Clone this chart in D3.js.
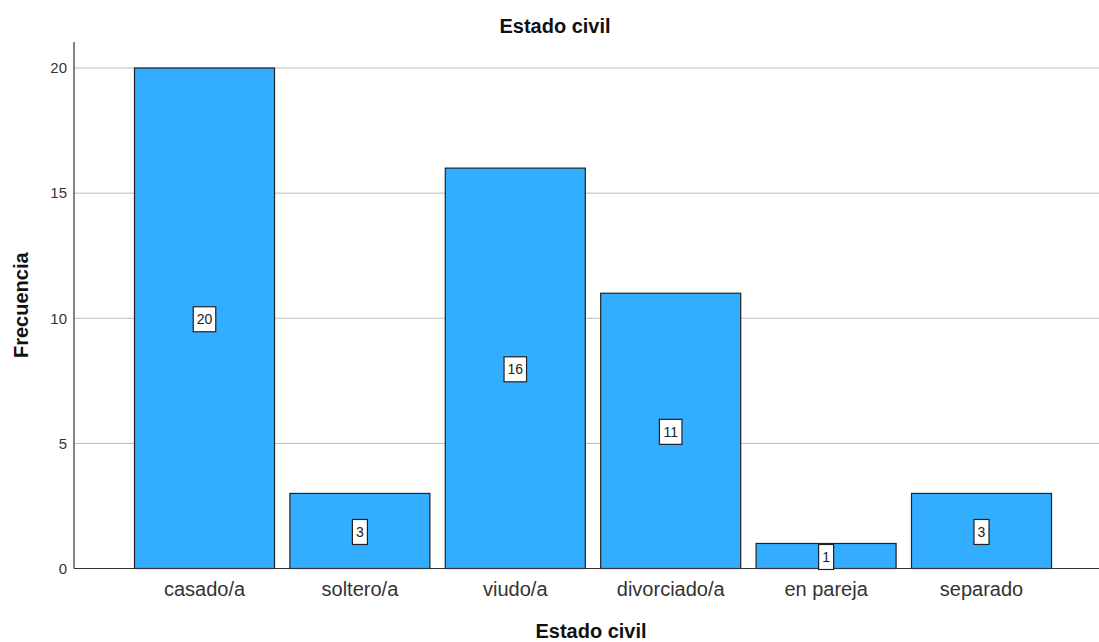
<!DOCTYPE html>
<html>
<head>
<meta charset="utf-8">
<script src="https://cdn.jsdelivr.net/npm/d3@7"></script>
<style>
  body { margin: 0; background: #fff; }
  svg { display: block; font-family: Arial, "Liberation Sans", sans-serif; }
</style>
</head>
<body>
<svg id="chart" width="1099" height="642"></svg>
<script>
const categories = ['casado/a', 'soltero/a', 'viudo/a', 'divorciado/a', 'en pareja', 'separado']
const counts = [20, 3, 16, 11, 1, 3]
const yTicks = [0, 5, 10, 15, 20]

const svg = d3.select('#chart')
const plotLeft = 74, plotTop = 42, plotRight = 1099, plotBottom = 568.5

const x = d3.scaleBand()
  .domain(categories)
  .range([126.8, 1059.2])
  .paddingInner(0.099)
  .paddingOuter(0.0495)

const y = d3.scaleLinear()
  .domain([0, 21.04])
  .range([plotBottom, plotTop])

// gridlines
svg.append('g')
  .selectAll('line')
  .data(yTicks.filter(d => d > 0))
  .enter()
  .append('line')
  .attr('x1', plotLeft)
  .attr('x2', plotRight)
  .attr('y1', d => y(d))
  .attr('y2', d => y(d))
  .style('stroke', '#bdbdbd')
  .style('stroke-width', 1)

// bars
svg.append('g')
  .selectAll('rect')
  .data(counts)
  .enter()
  .append('rect')
  .attr('x', (d, i) => x(categories[i]))
  .attr('y', d => y(d))
  .attr('width', x.bandwidth())
  .attr('height', d => plotBottom - y(d))
  .style('fill', '#33adff')
  .style('stroke', '#222')
  .style('stroke-width', 1.2)

// y axis
const yAxis = svg.append('g')
  .attr('transform', `translate(${plotLeft},0)`)
  .call(d3.axisLeft(y).tickValues(yTicks).tickSize(0).tickPadding(7))
yAxis.select('.domain').remove()
yAxis.selectAll('text').style('font-size', '15px').style('fill', '#333')
svg.append('line')
  .attr('x1', plotLeft).attr('x2', plotLeft)
  .attr('y1', plotTop).attr('y2', plotBottom)
  .style('stroke', '#333').style('stroke-width', 1.2)

// x axis
const xAxis = svg.append('g')
  .attr('transform', `translate(0,${plotBottom})`)
  .call(d3.axisBottom(x).tickSize(0).tickPadding(13))
xAxis.select('.domain').remove()
xAxis.selectAll('text').style('font-size', '20px').style('fill', '#333')
svg.append('line')
  .attr('x1', plotLeft).attr('x2', plotRight)
  .attr('y1', plotBottom).attr('y2', plotBottom)
  .style('stroke', '#333').style('stroke-width', 1.2)

// value labels
const labels = svg.append('g')
  .selectAll('g')
  .data(counts)
  .enter()
  .append('g')
  .attr('transform', (d, i) => `translate(${x(categories[i]) + x.bandwidth() / 2},${y(d / 2) + 1})`)

labels.append('rect')
  .attr('x', d => -(String(d).length * 7.5 + 7.5) / 2)
  .attr('y', -12.5)
  .attr('width', d => String(d).length * 7.5 + 7.5)
  .attr('height', 25)
  .style('fill', '#fff')
  .style('stroke', '#222')
  .style('stroke-width', 1.2)

labels.append('text')
  .attr('text-anchor', 'middle')
  .attr('dy', '0.36em')
  .style('font-size', '14px')
  .style('fill', '#222')
  .text(d => d)

// titles
svg.append('text')
  .attr('x', 555)
  .attr('y', 33)
  .attr('text-anchor', 'middle')
  .style('font-size', '20px')
  .style('font-weight', 'bold')
  .style('fill', '#111')
  .text('Estado civil')

svg.append('text')
  .attr('x', 591)
  .attr('y', 638)
  .attr('text-anchor', 'middle')
  .style('font-size', '20px')
  .style('font-weight', 'bold')
  .style('fill', '#111')
  .text('Estado civil')

svg.append('text')
  .attr('transform', `translate(28,${(plotTop + plotBottom) / 2}) rotate(-90)`)
  .attr('text-anchor', 'middle')
  .style('font-size', '20px')
  .style('font-weight', 'bold')
  .style('fill', '#111')
  .text('Frecuencia')
</script>
</body>
</html>
